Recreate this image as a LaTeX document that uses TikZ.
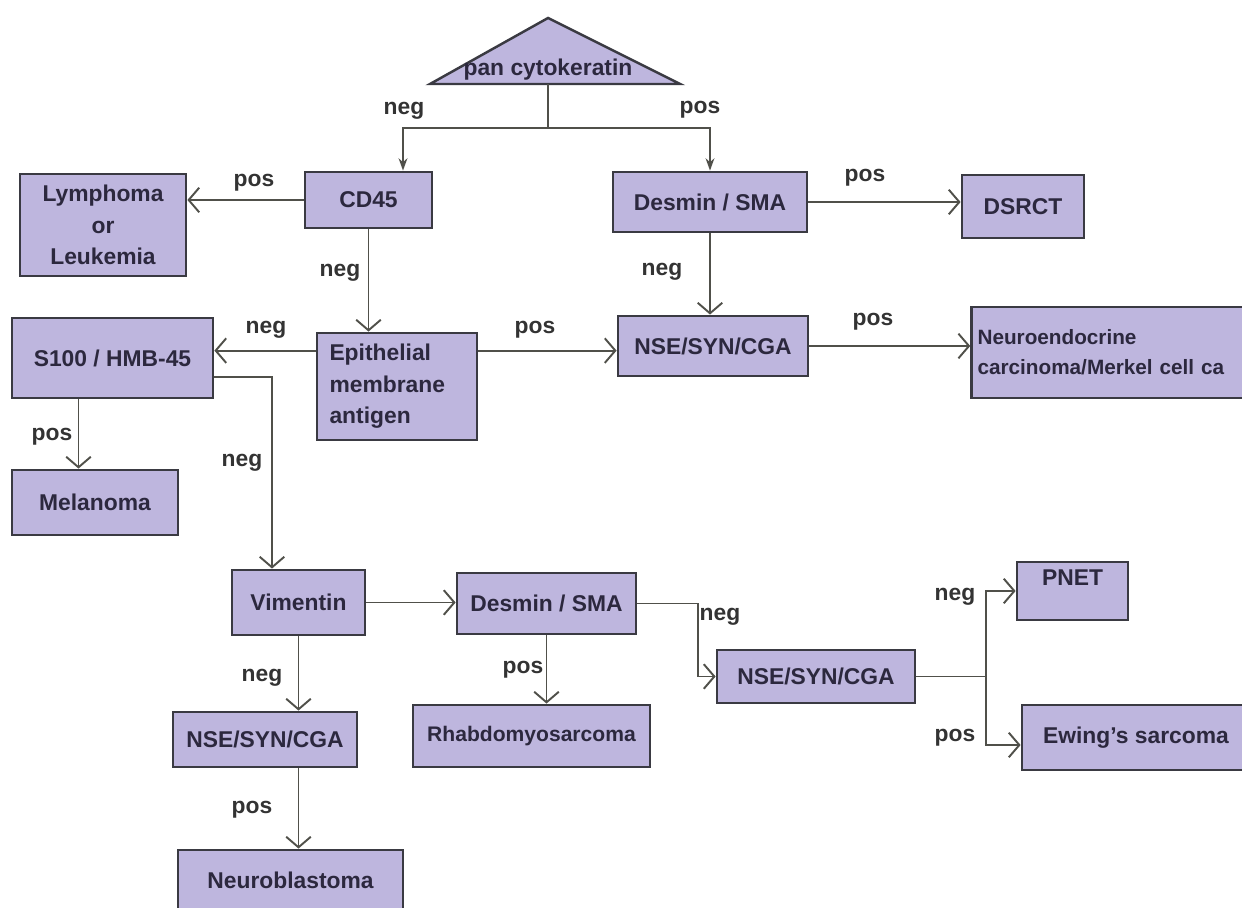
\documentclass[tikz,border=0pt]{standalone}
\usepackage{fontspec}
\setmainfont{Liberation Sans}
\usepackage{tikz}
\usetikzlibrary{arrows.meta}
\definecolor{boxfill}{RGB}{190,182,222}
\definecolor{boxline}{RGB}{58,58,66}
\definecolor{boxtext}{RGB}{44,40,62}
\definecolor{wire}{RGB}{80,80,74}

\begin{document}
\begin{tikzpicture}[x=0.02cm, y=-0.02cm,
    box/.style={rectangle, draw=boxline, line width=1.6pt, fill=boxfill, text=boxtext,
        font=\bfseries\fontsize{13}{18}\selectfont, align=center},
    lbl/.style={text=black!80, font=\bfseries\fontsize{13}{15}\selectfont},
    arr/.style={draw=wire, line width=1.1pt, -{Straight Barb[length=6pt, width=14pt]}},
    toparr/.style={draw=wire, line width=1.1pt, -{Stealth[open, length=7pt, width=5pt]}},
    wireline/.style={draw=wire, line width=1.1pt}]
            \clip (0,0) rectangle (1242,908);
            \useasboundingbox (0,0) rectangle (1242,908);

            % top triangle
            \filldraw[fill=boxfill, draw=boxline, line width=1.4pt] (430,84) -- (548,18) -- (680,84) -- cycle;
            \node[lbl, text=boxtext] at (548,70)   (pck) {pan cytokeratin};
            \coordinate (pckb) at (548,84);
            \coordinate (split) at (548,128);

            \node[box, minimum width=2.54cm, minimum height=1.12cm] at (368.5,200)   (cd45) {CD45};
            \node[box, minimum width=3.32cm, minimum height=2.04cm] at (103,225)     (lymph) {Lymphoma\\or\\Leukemia};
            \node[box, minimum width=3.88cm, minimum height=1.20cm] at (710,202)     (desA) {Desmin / SMA};
            \node[box, minimum width=2.44cm, minimum height=1.26cm] at (1023,206.5)  (dsrct) {DSRCT};
            \node[box, minimum width=3.20cm, minimum height=2.14cm, text width=2.7cm, align=left] at (397,386.5) (epith) {Epithelial\\membrane\\antigen};
            \node[box, minimum width=3.80cm, minimum height=1.20cm] at (713,346)     (nseA) {NSE/SYN/CGA};
            \node[box, minimum width=6.56cm, minimum height=1.82cm, text width=6.34cm, align=left,
                  font=\bfseries\fontsize{11.8}{17}\selectfont] at (1136,352.5) (neuro) {Neuroendocrine\\carcinoma/Merkel cell ca};
            \node[box, minimum width=4.02cm, minimum height=1.60cm] at (112.5,358)   (s100) {S100 / HMB-45};
            \node[box, minimum width=3.32cm, minimum height=1.30cm] at (95,502.5)    (mel) {Melanoma};
            \node[box, minimum width=2.66cm, minimum height=1.30cm] at (298.5,602.5) (vim) {Vimentin};
            \node[box, minimum width=3.58cm, minimum height=1.22cm] at (546.5,603.5) (desB) {Desmin / SMA};
            \node[box, minimum width=3.96cm, minimum height=1.06cm] at (816,676.5)   (nseB) {NSE/SYN/CGA};
            \node[box, minimum width=2.22cm, minimum height=1.16cm, text depth=15pt] at (1072.5,591) (pnet) {PNET};
            \node[box, minimum width=4.56cm, minimum height=1.30cm] at (1136,737.5)  (ewing) {Ewing's sarcoma};
            \node[box, minimum width=4.74cm, minimum height=1.24cm,
                  font=\bfseries\fontsize{12}{18}\selectfont] at (531.5,736)   (rhab) {Rhabdomyosarcoma};
            \node[box, minimum width=3.68cm, minimum height=1.10cm] at (265,739.5)   (nseC) {NSE/SYN/CGA};
            \node[box, minimum width=4.50cm, minimum height=1.20cm] at (290.5,880)   (nblast) {Neuroblastoma};

            % connectors
            \draw[wireline] (pckb) -- (split);
            \draw[toparr] (split) -| ([xshift=0.69cm]cd45.north);
            \draw[toparr] (split) -| (desA.north);
            \draw[arr] (cd45.west) -- (cd45.west -| lymph.east);
            \draw[arr] (cd45.south) -- (cd45.south |- epith.north);
            \draw[arr] ([yshift=-0.38cm]epith.north west) coordinate (e1) -- (e1 -| s100.east);
            \draw[arr] ([yshift=-0.38cm]epith.north east) coordinate (e2) -- (e2 -| nseA.west);
            \draw[arr] (desA.south) -- (desA.south |- nseA.north);
            \draw[arr] (desA.east) -- (desA.east -| dsrct.west);
            \draw[arr] (nseA.east) -- (nseA.east -| neuro.west);
            \draw[arr] ([xshift=-0.68cm]s100.south) coordinate (s1) -- (s1 |- mel.north);
            \draw[arr] ([yshift=-0.38cm]s100.east) -| ([xshift=-0.53cm]vim.north);
            \draw[arr] (vim.east) -- (vim.east -| desB.west);
            \draw[arr] (desB.east) -- ++(61,0) |- (nseB.west);
            \draw[arr] (desB.south) -- (desB.south |- rhab.north);
            \draw[arr] (vim.south) -- (vim.south |- nseC.north);
            \draw[arr] (vim.south |- nseC.south) -- (vim.south |- nblast.north);
            \draw[wireline] (nseB.east) -- ++(70,0) coordinate (fork);
            \draw[arr] (fork) |- (pnet.west);
            \draw[arr] (fork) |- ([yshift=-0.15cm]ewing.west);

            % labels
            \node[lbl] at (404,111) (ln1) {neg};
            \node[lbl] at (700,110) (lp1) {pos};
            \node[lbl] at (254,183) (lp2) {pos};
            \node[lbl] at (340,273) (ln2) {neg};
            \node[lbl] at (865,178) (lp3) {pos};
            \node[lbl] at (662,272) (ln3) {neg};
            \node[lbl] at (266,330) (ln4) {neg};
            \node[lbl] at (535,330) (lp4) {pos};
            \node[lbl] at (873,322) (lp5) {pos};
            \node[lbl] at (52,437)  (lp6) {pos};
            \node[lbl] at (242,463) (ln5) {neg};
            \node[lbl] at (720,617) (ln6) {neg};
            \node[lbl] at (523,670) (lp7) {pos};
            \node[lbl] at (262,678) (ln7) {neg};
            \node[lbl] at (252,810) (lp8) {pos};
            \node[lbl] at (955,597) (ln8) {neg};
            \node[lbl] at (955,738) (lp9) {pos};
        \end{tikzpicture}
\end{document}
